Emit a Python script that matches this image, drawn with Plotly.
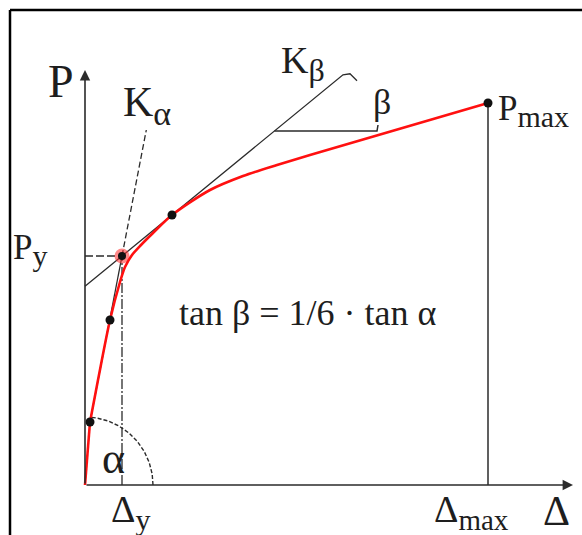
import numpy as np
import plotly.graph_objects as go

# Load-displacement curve (displacement Δ, load P)
curve_delta = [0, 0.5, 1.3, 2.5, 3.5, 4.0, 4.7, 5.6, 6.8, 8.7, 12.5, 15.8, 19.2, 22.5, 40.3]
curve_load = [0, 6.3, 10.5, 16.5, 20.3, 21.8, 23.0, 24.0, 25.2, 27.0, 29.5, 30.9, 32.0, 33.0, 38.2]

# Marked points on the curve
point_delta = [0.5, 2.5, 8.7]
point_load = [6.3, 16.5, 27.0]

# Characteristic values
delta_y, load_y = 3.7, 22.9
delta_max, load_max = 40.3, 38.2

# Construction lines
k_alpha_top = 35.5          # load where the K_alpha secant ends
k_beta_end = 25.8           # displacement where the K_beta tangent ends
beta_level = 35.4           # height of the slope triangle
beta_right = 29.2
arc_radius = 6.8
arc_angle = 85.0

axis_delta_end = 48.8
axis_load_end = 41.5

INK = "#2b2b2b"
RED = "#ff1010"
SERIF = "Liberation Serif, Times New Roman, serif"

fig = go.Figure()

def seg(xs, ys, dash="solid", width=1.3, color=INK):
    fig.add_trace(go.Scatter(x=xs, y=ys, mode="lines",
                             line=dict(color=color, width=width, dash=dash),
                             hoverinfo="skip", showlegend=False))

# K_alpha secant: solid between the marked points, dashed above P_y
k_alpha = (load_y - point_load[0]) / (delta_y - point_delta[0])
seg([point_delta[0], delta_y], [point_load[0], load_y])
seg([delta_y, delta_y + (k_alpha_top - load_y) / k_alpha], [load_y, k_alpha_top], dash="6px,3px")

# K_beta tangent through P_y and the tangent point
k_beta = (point_load[2] - load_y) / (point_delta[2] - delta_y)
b0 = load_y - k_beta * delta_y
beta_end_load = b0 + k_beta * k_beta_end
seg([0, k_beta_end, k_beta_end + 0.7, k_beta_end + 1.4],
    [b0, beta_end_load, beta_end_load + 0.1, beta_end_load - 0.6])

# slope triangle for beta
beta_left = (beta_level - b0) / k_beta
seg([beta_left, beta_right, beta_right + 0.1], [beta_level, beta_level, beta_level + 0.6], width=1.5)

# P_y and Δ_y guide lines
seg([0, delta_y], [load_y, load_y], dash="8px,3px")
seg([delta_y, delta_y], [0, load_y], dash="10px,2px,2px,2px")

# Δ_max vertical
seg([delta_max, delta_max], [0, load_max], width=1.5)

# angle arc for alpha
theta = np.radians(np.linspace(0, arc_angle, 60))
seg(arc_radius * np.cos(theta), arc_radius * np.sin(theta), dash="4px,2px", width=1.4)

# red load-displacement curve: straight initial branch, smooth afterwards
fig.add_trace(go.Scatter(x=curve_delta[:2], y=curve_load[:2], mode="lines",
                         line=dict(color=RED, width=2.6), hoverinfo="skip", showlegend=False))
fig.add_trace(go.Scatter(x=curve_delta[1:], y=curve_load[1:], mode="lines",
                         line=dict(color=RED, width=2.6, shape="spline", smoothing=0.8),
                         hoverinfo="skip", showlegend=False))

# marked points
fig.add_trace(go.Scatter(x=point_delta + [delta_max], y=point_load + [load_max], mode="markers",
                         marker=dict(color="#111111", size=9), hoverinfo="skip", showlegend=False))
# yield point with a soft red halo
fig.add_trace(go.Scatter(x=[delta_y], y=[load_y], mode="markers",
                         marker=dict(color="rgba(255,40,40,0.55)", size=15),
                         hoverinfo="skip", showlegend=False))
fig.add_trace(go.Scatter(x=[delta_y], y=[load_y], mode="markers",
                         marker=dict(color="#111111", size=8),
                         hoverinfo="skip", showlegend=False))

# axes with arrowheads
for (x0, y0, x1, y1) in [(0, 0, axis_delta_end, 0), (0, 0, 0, axis_load_end)]:
    fig.add_annotation(x=x1, y=y1, ax=x0, ay=y0, xref="x", yref="y", axref="x", ayref="y",
                       showarrow=True, arrowhead=2, arrowsize=1.3, arrowwidth=1.6,
                       arrowcolor=INK, standoff=0, text="")

def label(x, y, text, size=34, xanchor="center", yanchor="middle"):
    fig.add_annotation(x=x, y=y, xref="x", yref="y", text=text, showarrow=False,
                       xanchor=xanchor, yanchor=yanchor,
                       font=dict(family=SERIF, size=size, color="#1e1e1e"))

def sub(text, size):
    return f'<sub><span style="font-size:{size}px">{text}</span></sub>'

label(-2.4, 40.4, "P", size=46)
label(3.6, 38.0, "K" + sub("α", 34), size=42, xanchor="left")
label(19.4, 42.2, "K" + sub("β", 32), size=38, xanchor="left")
label(29.7, 38.3, "β", size=36)
label(41.1, 37.4, "P" + sub("max", 30), size=35, xanchor="left")
label(-7.4, 23.5, "P" + sub("y", 30), size=35, xanchor="left")
label(22.3, 17.2, "tan β = 1/6 · tan α", size=36)
label(2.8, 2.7, "α", size=44)
label(2.4, -2.7, "Δ" + sub("y", 30), size=38, xanchor="left")
label(34.7, -2.7, "Δ" + sub("max", 29), size=38, xanchor="left")
label(47.1, -2.6, "Δ", size=42)

# frame on the top and left edges
fig.add_shape(type="line", xref="paper", yref="paper", x0=10 / 582, x1=1, y0=1 - 10 / 535, y1=1 - 10 / 535,
              line=dict(color="#000000", width=2.5))
fig.add_shape(type="line", xref="paper", yref="paper", x0=10 / 582, x1=10 / 582, y0=0, y1=1 - 10 / 535,
              line=dict(color="#000000", width=2.5))

fig.update_xaxes(range=[-8.5, 49.7], visible=False, fixedrange=True)
fig.update_yaxes(range=[-5, 48.5], visible=False, fixedrange=True)
fig.update_layout(width=582, height=535, margin=dict(l=0, r=0, t=0, b=0),
                  paper_bgcolor="white", plot_bgcolor="white", showlegend=False)

fig.write_html("out.html")
